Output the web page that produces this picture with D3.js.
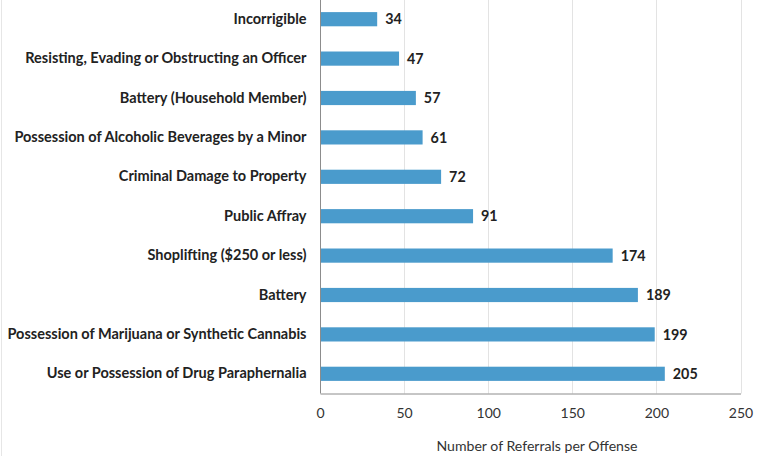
<!DOCTYPE html>
<html><head><meta charset="utf-8">
<script src="https://cdn.jsdelivr.net/npm/d3@7"></script>
<style>
html,body{margin:0;padding:0;background:#fff;}
svg{display:block;}
</style></head>
<body>
<svg id="chart" width="766" height="456"></svg>
<script>
const categories = [
  "Incorrigible",
  "Resisting, Evading or Obstructing an Officer",
  "Battery (Household Member)",
  "Possession of Alcoholic Beverages by a Minor",
  "Criminal Damage to Property",
  "Public Affray",
  "Shoplifting ($250 or less)",
  "Battery",
  "Possession of Marijuana or Synthetic Cannabis",
  "Use or Possession of Drug Paraphernalia"
];
const values = [34, 47, 57, 61, 72, 91, 174, 189, 199, 205];
const tickValues = [0, 50, 100, 150, 200, 250];
const xTitle = "Number of Referrals per Offense";

(function () {
const svg = d3.select("#chart");
const font = "Lato, 'Open Sans', sans-serif";
const mLeft = 320, mRight = 740.5, mTop = -0.5, mBottom = 393.5;

const x = d3.scaleLinear().domain([0, 250]).range([mLeft, mRight]);
const y = d3.scaleBand().domain(categories).range([mTop, mBottom]).paddingInner(0.64).paddingOuter(0.32);

// left faint border
svg.append("line").attr("x1", 1.5).attr("x2", 1.5).attr("y1", 0).attr("y2", 456)
  .attr("stroke", "#e6e6e6").attr("stroke-width", 1);

// gridlines
svg.append("g").selectAll("line").data(tickValues.filter(d => d > 0)).join("line")
  .attr("x1", d => Math.round(x(d)) + 0.5).attr("x2", d => Math.round(x(d)) + 0.5)
  .attr("y1", 0).attr("y2", mBottom)
  .attr("stroke", "#e3e3e3").attr("stroke-width", 1);

// bars
svg.append("g").selectAll("rect").data(values).join("rect")
  .attr("x", x(0))
  .attr("y", (d, i) => y(categories[i]))
  .attr("width", d => x(d) - x(0))
  .attr("height", y.bandwidth())
  .attr("fill", "#4a9bcc");

// value labels
svg.append("g").selectAll("text").data(values).join("text")
  .attr("x", d => x(d) + 8)
  .attr("y", (d, i) => y(categories[i]) + y.bandwidth() / 2)
  .attr("dy", "0.36em")
  .attr("font-family", font).attr("font-weight", "bold").attr("font-size", 14.3)
  .attr("fill", "#222")
  .text(d => d);

// y axis
const yAxis = svg.append("g").attr("transform", `translate(${mLeft + 0.5},0)`)
  .call(d3.axisLeft(y).tickSize(0).tickPadding(14));
yAxis.select(".domain").attr("stroke", "#8c8c8c").attr("d", `M0,0V${mBottom}`);
yAxis.selectAll("text").attr("font-family", font).attr("font-weight", "bold")
  .attr("font-size", 14.5).attr("fill", "#222");

// x axis
const xAxis = svg.append("g").attr("transform", `translate(0,${mBottom})`)
  .call(d3.axisBottom(x).tickValues(tickValues).tickSize(0).tickPadding(15));
xAxis.select(".domain").attr("stroke", "#8c8c8c");
xAxis.selectAll("text").attr("font-family", font).attr("font-size", 14).attr("fill", "#333");

svg.append("text").attr("x", 537).attr("y", 451)
  .attr("text-anchor", "middle").attr("font-family", font).attr("font-size", 14.1)
  .attr("fill", "#333").text(xTitle);
})();
</script>
</body></html>
